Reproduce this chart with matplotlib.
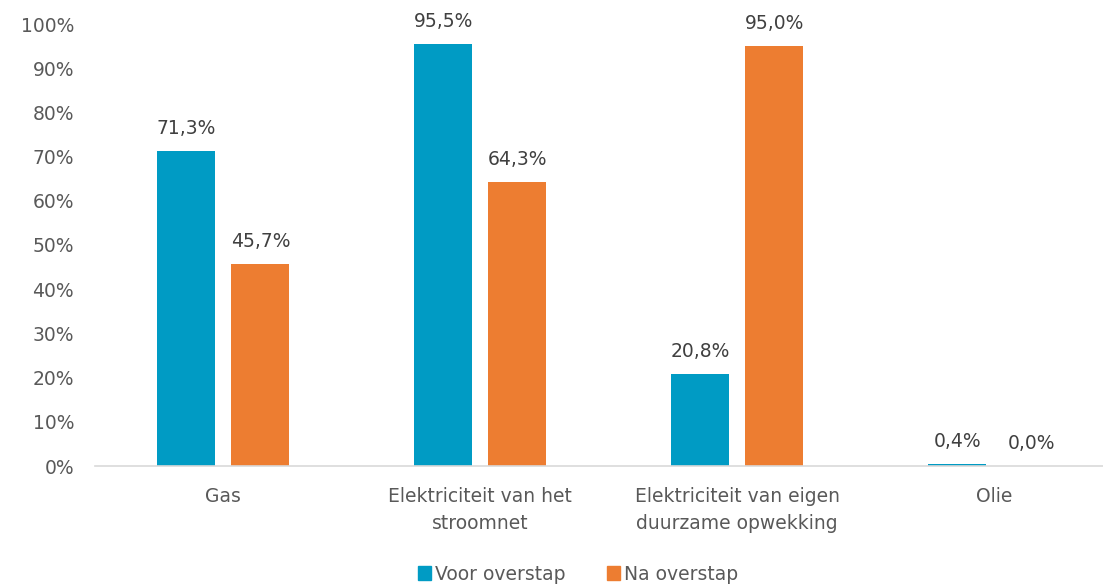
import matplotlib
matplotlib.use("Agg")
import matplotlib.pyplot as plt
import numpy as np
from matplotlib.patches import Patch

categories = ["Gas", "Elektriciteit van het\nstroomnet", "Elektriciteit van eigen\nduurzame opwekking", "Olie"]
voor = [71.3, 95.5, 20.8, 0.4]
na = [45.7, 64.3, 95.0, 0.0]
series_names = ["Voor overstap", "Na overstap"]
yticks = [0, 10, 20, 30, 40, 50, 60, 70, 80, 90, 100]

blue = "#009BC4"
orange = "#ED7D31"
tick_col = "#595959"
lab_col = "#404040"

plt.rcParams['font.family'] = ['DejaVu Sans']
FS = 13.5

W, H = 1103, 585
fig = plt.figure(figsize=(W/100, H/100), dpi=100)
ax = fig.add_axes([95/W, (H-466)/H, (W-95)/W, (466-24)/H])

x = np.arange(len(categories))
off = 37/257
bw = 58/257
b1 = ax.bar(x - off, voor, bw, color=blue)
b2 = ax.bar(x + off, na, bw, color=orange)

def fmt(v):
    return f"{v:.1f}".replace(".", ",") + "%"

for bars, vals in ((b1, voor), (b2, na)):
    for r, v in zip(bars, vals):
        ax.text(r.get_x() + r.get_width()/2, v + 3.0, fmt(v), ha="center", va="bottom",
                fontsize=FS, color=lab_col, clip_on=False)

ax.set_xlim(-0.5, (W - 223)/257)
ax.set_ylim(0, 100)
ax.set_yticks(yticks)
ax.set_yticklabels([f"{t}%" for t in yticks], fontsize=FS, color=tick_col)
ax.set_xticks(x)
ax.set_xticklabels(categories, fontsize=FS, color=tick_col, linespacing=1.55)
ax.tick_params(axis="both", length=0)
ax.tick_params(axis="y", pad=15)
ax.tick_params(axis="x", pad=15)
for s in ["top", "right", "left"]:
    ax.spines[s].set_visible(False)
ax.spines["bottom"].set_color("#D9D9D9")
ax.spines["bottom"].set_linewidth(1.2)

handles = [Patch(color=blue), Patch(color=orange)]
fig.legend(handles, series_names, loc="center", bbox_to_anchor=(578/W, 1 - 574/H),
           ncol=2, frameon=False, fontsize=FS, handlelength=0.7, handleheight=0.7,
           handletextpad=0.2, columnspacing=2.2, labelcolor=tick_col)

fig.savefig("out.png", dpi=100)
